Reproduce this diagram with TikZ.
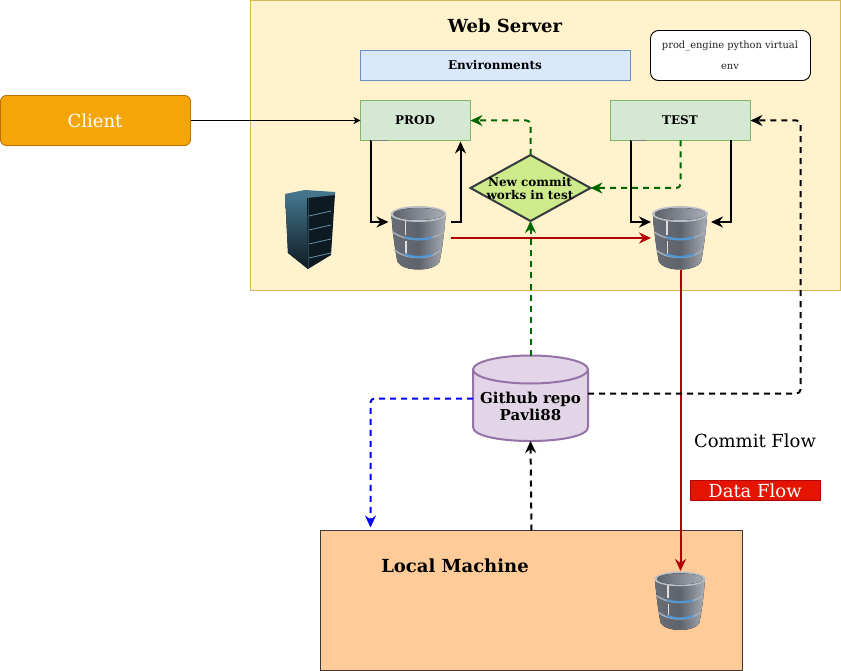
\documentclass[tikz,border=0pt]{standalone}
\usepackage{fontspec}
\setmainfont{DejaVu Serif}
\usetikzlibrary{arrows.meta,shapes.geometric,calc}
\definecolor{dbA}{HTML}{5E636B}
\definecolor{dbB}{HTML}{A9AEB6}
\definecolor{dbC}{HTML}{6A6F77}
\definecolor{rackA}{HTML}{44758D}
\definecolor{rackB}{HTML}{0E1A22}
\definecolor{dbBlue}{RGB}{80,150,210}
\definecolor{flowGreen}{RGB}{0,102,0}
\definecolor{flowRed}{RGB}{180,0,0}
\definecolor{boxGreen}{RGB}{213,232,212}
\definecolor{boxGreenL}{RGB}{130,179,102}
\definecolor{repoFill}{RGB}{225,213,231}
\definecolor{repoLine}{RGB}{150,115,166}
\tikzset{
  box/.style={draw,line width=.9pt,inner sep=0pt,outer sep=0pt,anchor=north west},
  lbl/.style={font=\bfseries\fontsize{#1}{#1}\selectfont,align=center},
  tip/.style={-{Stealth[length=12pt,width=11pt,inset=4pt]}},
  smalltip/.style={-{Stealth[length=7pt,width=7pt,inset=2pt]}},
  blackflow/.style={tip,line width=2pt,black},
  dflow/.style={tip,line width=2pt,dash pattern=on 6pt off 5pt,rounded corners=4pt},
  redflow/.style={tip,line width=2pt,color=flowRed},
  anchorpt/.style={inner sep=0pt,minimum size=0pt,outer sep=0pt},
  greenbox/.style={box,fill=boxGreen,draw=boxGreenL,minimum height=40pt},
}
\newcommand{\dbicon}[3]{%
 \begin{scope}[shift={(#1,#2)},scale=#3]
  \fill[left color=dbC,right color=dbB,middle color=dbA] (-27,-24) .. controls (-27,-16) and (-24,10) .. (-21,24) .. controls (-15,34) and (15,34) .. (21,24) .. controls (24,10) and (27,-16) .. (27,-24) -- cycle;
  \fill[white!75!gray] (-14,-22) rectangle (-12.5,-3);
  \fill[white!75!gray] (-13.5,3) rectangle (-12,16);
  \draw[line width=1.5pt,color=dbB] (-26,-6) .. controls (-12,4) and (12,4) .. (25,-6);
  \draw[line width=2.2pt,color=dbBlue] (-14,-1) .. controls (-5,2) and (5,2) .. (14,-1);
  \draw[line width=1.5pt,color=dbB] (-24,12) .. controls (-12,22) and (12,22) .. (22,12);
  \draw[line width=2.2pt,color=dbBlue] (-14,16) .. controls (-5,20) and (5,20) .. (14,16);
  \fill[color=dbB!80!white] (0,-24) ellipse (28 and 8);
  \fill[left color=dbA,right color=dbB] (0,-24) ellipse (25 and 6);
 \end{scope}}
\begin{document}
\begin{tikzpicture}[x=1pt,y=-1pt]
\useasboundingbox (0,0) rectangle (841,671);
% containers
\node[box,fill={rgb,255:red,255;green,242;blue,204},draw={rgb,255:red,214;green,182;blue,86},minimum width=590pt,minimum height=290pt] (web) at (250.5,0.5) {};
\node[box,fill={rgb,255:red,255;green,204;blue,153},draw={rgb,255:red,54;green,57;blue,61},minimum width=422pt,minimum height=140pt] (local) at (320.5,530.5) {};
% titles
\node[lbl=18] (webt) at (505,26) {Web Server};
\node[lbl=18] (localt) at (455,566) {Local Machine};
% boxes
\node[box,fill={rgb,255:red,218;green,232;blue,252},draw={rgb,255:red,108;green,142;blue,191},minimum width=270pt,minimum height=30pt] (env) at (360.5,50.5) {};
\node[lbl=12] (envt) at (495,65.5) {Environments};
\node[box,rounded corners=8pt,fill=white,draw=black,minimum width=160pt,minimum height=50pt] (venv) at (650.5,30.5) {};
\node[font=\fontsize{9.9}{21}\selectfont,align=center,text=black!85] (venvt) at (730,55.5) {prod\_engine python virtual\\env};
\node[box,rounded corners=6pt,fill={rgb,255:red,244;green,165;blue,10},draw={rgb,255:red,189;green,112;blue,0},minimum width=190pt,minimum height=50pt] (client) at (0.5,95.5) {};
\node[font=\fontsize{18}{20}\selectfont,text=white] (clientt) at (95,120.5) {Client};
\node[greenbox,minimum width=110pt] (prod) at (360.5,100.5) {};
\node[lbl=12] (prodt) at (415,120.5) {PROD};
\node[greenbox,minimum width=140pt] (test) at (610.5,100.5) {};
\node[lbl=12] (testt) at (680,120.5) {TEST};
% diamond
\node[diamond,draw={rgb,255:red,54;green,57;blue,61},line width=2pt,fill={rgb,255:red,205;green,235;blue,139},minimum width=120pt,minimum height=66pt,inner sep=0pt,outer sep=0pt,aspect=1.8] (dec) at (530.5,188) {};
\node[font=\bfseries\fontsize{12}{13}\selectfont,align=center] (dect) at (530,188.5) {New commit\\works in test};
% cylinder
\path[fill=repoFill,draw=repoLine,line width=2pt] (473,369.5) -- (473,427) .. controls (473,445.7) and (588,445.7) .. (588,427) -- (588,369.5) -- cycle;
\node[ellipse,draw=repoLine,fill=repoFill,line width=2pt,minimum width=115pt,minimum height=28pt,inner sep=0pt,outer sep=0pt] (repotop) at (530.5,369.5) {};
\node[font=\bfseries\fontsize{15}{17}\selectfont,align=center] (repo) at (530.5,406) {Github repo\\Pavli88};
% free labels
\node[font=\fontsize{18}{20}\selectfont] (cf) at (755,441) {Commit Flow};
\node[box,fill={rgb,255:red,229;green,20;blue,0},draw={rgb,255:red,180;green,4;blue,4},minimum width=130pt,minimum height=20pt] (df) at (690.5,480.5) {};
\node[font=\fontsize{18}{20}\selectfont,text=white] (dft) at (755,490.5) {Data Flow};
% rack
\fill[top color=rackA,bottom color=rackB] (285,194) -- (308,197) -- (308,269) -- (288,253) -- cycle;
\fill[rackB] (307,197) -- (335,194) -- (331,255) -- (308,269) -- cycle;
\fill[color=rackA] (285,194) -- (305,190) -- (335,192) -- (335,195) -- (307,198) -- cycle;
\foreach \yy in {0,1,2,3}
  \draw[color=rackA!80!white,line width=.8pt] (309,{216+\yy*14}) -- (331,{211+\yy*14});
\draw[color=rackA!60!black,line width=.7pt] (308,198) -- (308,268);
% databases
\dbicon{418.5}{238}{1}
\dbicon{680}{238}{1}
\dbicon{680}{601}{.92}
\node[anchorpt] (dbA) at (418.5,238) {};
\node[anchorpt] (dbB) at (680,238) {};
\node[anchorpt] (dbC) at (680,601) {};
% connectors
\draw[smalltip,line width=1pt] (client.east|-0,120.5) -- (prod.west|-0,120.5);
\draw[blackflow] ($(prod.south west)+(10,0)$) |- ($(dbA)+(-30,-16)$);
\draw[line width=.8pt,color=gray] ($(prod.south west)+(10,0)$) -- +(17,0);
\draw[blackflow] ($(dbA)+(32,-16)$) -| ($(prod.south east)+(-10,1)$);
\draw[blackflow] ($(test.south west)+(20,0)$) |- ($(dbB)+(-29,-16)$);
\draw[line width=.8pt,color=gray] ($(test.south west)+(20,0)$) -- +(15,0);
\draw[blackflow] ($(test.south east)+(-20,0)$) |- ($(dbB)+(31,-16)$);
\draw[redflow] ($(dbA)+(32,0)$) -- ($(dbB)+(-29,0)$);
\draw[redflow] ($(dbB)+(0.5,32)$) -- ($(dbC)+(0.5,-30)$);
\draw[dflow,color=flowGreen] (dec.north) |- (prod.east);
\draw[dflow,color=flowGreen] (test.south) |- (dec.east);
\draw[dflow,color=flowGreen] (repotop.north) -- (dec.south);
\draw[dflow,color=black] (588,393.5) -| (800.5,120.5) -- (test.east);
\draw[dflow,color=blue] (473,398.5) -| ($(local.north west)+(50,-3)$);
\draw[dflow,color=black] ($(local.north west)+(211,0)$) -- (530.5,441);
\end{tikzpicture}
\end{document}
